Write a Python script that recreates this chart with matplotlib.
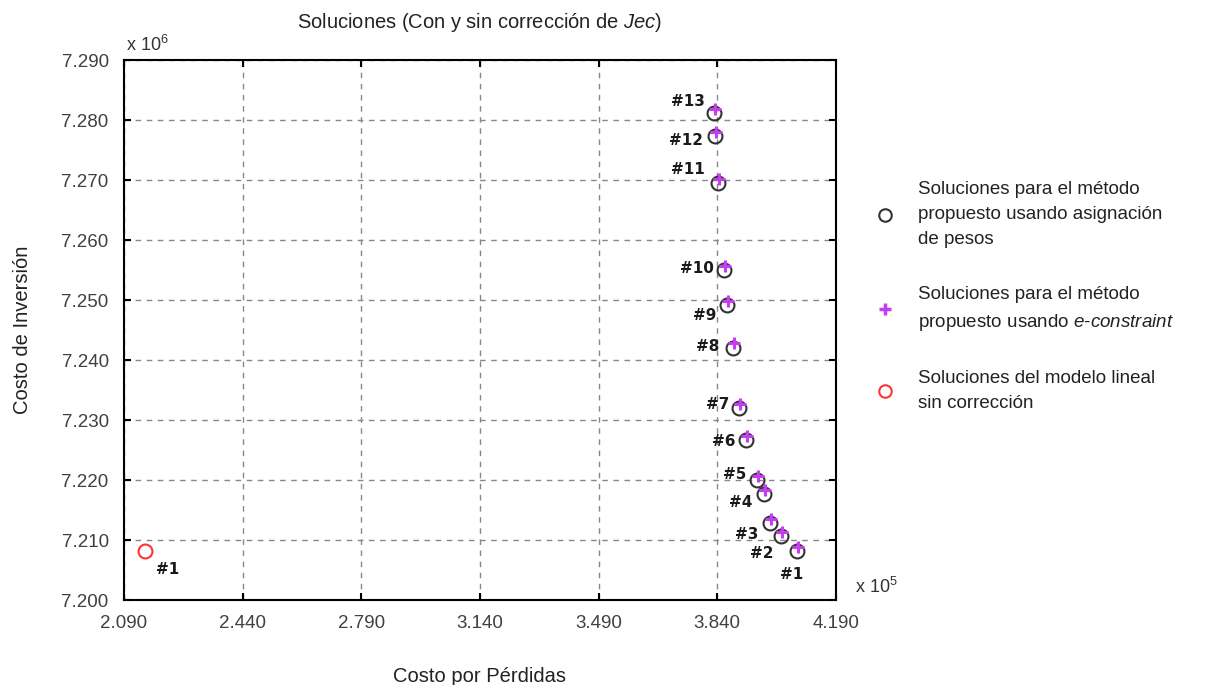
import matplotlib
matplotlib.use("Agg")
import matplotlib.pyplot as plt
from matplotlib.lines import Line2D

plt.rcParams["font.family"] = ["Liberation Sans", "DejaVu Sans"]
plt.rcParams["mathtext.fontset"] = "custom"
plt.rcParams["mathtext.rm"] = "Liberation Sans"
plt.rcParams["mathtext.it"] = "Liberation Sans:italic"

# ── data (x in 10^5, y in 10^6) ───────────────────────────────────────────────
labels = ["#1", "#2", "#3", "#4", "#5", "#6", "#7",
          "#8", "#9", "#10", "#11", "#12", "#13"]

peso_x = [4.076, 4.029, 3.996, 3.979, 3.958, 3.926, 3.905,
          3.887, 3.869, 3.861, 3.843, 3.834, 3.831]
peso_y = [7.2082, 7.2107, 7.2128, 7.2177, 7.2200, 7.2267, 7.2320,
          7.2420, 7.2492, 7.2550, 7.2695, 7.2773, 7.2812]

eps_x = [4.078, 4.031, 3.998, 3.981, 3.960, 3.928, 3.907,
         3.889, 3.871, 3.863, 3.844, 3.836, 3.833]
eps_y = [7.2089, 7.2114, 7.2135, 7.2184, 7.2207, 7.2274, 7.2327,
         7.2428, 7.2499, 7.2557, 7.2702, 7.2780, 7.2819]

lin_x = [2.152]
lin_y = [7.2082]
lin_labels = ["#1"]

xticks = [2.090, 2.440, 2.790, 3.140, 3.490, 3.840, 4.190]
yticks = [7.200, 7.210, 7.220, 7.230, 7.240, 7.250, 7.260, 7.270, 7.280, 7.290]

# label offsets in pixels (dx, dy) relative to each point
label_off = [(-6, -24), (-20, -18), (-23, -11), (-24, -9), (-23, 6), (-23, -2),
             (-22, 4), (-26, 2), (-22, -11), (-27, 2), (-30, 14), (-29, -4),
             (-26, 12)]

# ── figure ────────────────────────────────────────────────────────────────────
fig = plt.figure(figsize=(12.15, 6.85), dpi=100)
ax = fig.add_axes([0.102, 0.124, 0.586, 0.788])

ax.plot(peso_x, peso_y, "o", ms=10, mfc="none", mec="#333333", mew=1.5)
ax.plot(eps_x, eps_y, "+", ms=8, color="#c63cf0", mew=2.2)
ax.plot(lin_x, lin_y, "o", ms=10, mfc="none", mec="#ff3333", mew=1.5)

for x, y, t, (dx, dy) in zip(peso_x, peso_y, labels, label_off):
    ax.annotate(t, (x, y), xytext=(dx, dy), textcoords="offset pixels",
                ha="center", va="center", fontsize=11, fontweight="bold",
                family=["DejaVu Sans"], color="#1a1a1a")
for x, y, t in zip(lin_x, lin_y, lin_labels):
    ax.annotate(t, (x, y), xytext=(23, -19), textcoords="offset pixels",
                ha="center", va="center", fontsize=11, fontweight="bold",
                family=["DejaVu Sans"], color="#1a1a1a")

ax.set_xlim(xticks[0], xticks[-1])
ax.set_ylim(yticks[0], yticks[-1])
ax.set_xticks(xticks)
ax.set_yticks(yticks)
ax.set_xticklabels([f"{v:.3f}" for v in xticks])
ax.set_yticklabels([f"{v:.3f}" for v in yticks])
ax.tick_params(direction="in", length=5, width=1.5, labelsize=13.5,
               labelcolor="#404040", top=True, right=True, pad=11)
ax.grid(True, color="#888888", linestyle=(0, (4, 4)), linewidth=1)
for s in ax.spines.values():
    s.set_linewidth(1.5)

ax.set_title("Soluciones (Con y sin corrección de $\\mathit{Jec}$)",
             fontsize=14.5, color="#222222", pad=23)
ax.set_xlabel("Costo por Pérdidas", fontsize=14.5, color="#222222", labelpad=25)
ax.set_ylabel("Costo de Inversión", fontsize=14.5, color="#222222", labelpad=21)

fig.text(0.104, 0.926, "x 10$^{6}$", fontsize=13, color="#333333")
fig.text(0.704, 0.134, "x 10$^{5}$", fontsize=13, color="#333333")

handles = [
    Line2D([], [], ls="none", marker="o", ms=9, mfc="none", mec="#333333", mew=1.5),
    Line2D([], [], ls="none", marker="+", ms=9, color="#c63cf0", mew=2.5),
    Line2D([], [], ls="none", marker="o", ms=9, mfc="none", mec="#ff3333", mew=1.5),
]
names = [
    "Soluciones para el método\npropuesto usando asignación\nde pesos",
    "Soluciones para el método\npropuesto usando $\\mathit{e}$-$\\mathit{constraint}$",
    "Soluciones del modelo lineal\nsin corrección",
]
leg = fig.legend(handles, names, loc="center left", bbox_to_anchor=(0.705, 0.567),
                 frameon=False, fontsize=13.5, handlelength=1.2, handletextpad=1.2,
                 labelspacing=2.0)
for t in leg.get_texts():
    t.set_linespacing(1.6)
    t.set_color("#222222")

fig.savefig("out.png", dpi=100)
